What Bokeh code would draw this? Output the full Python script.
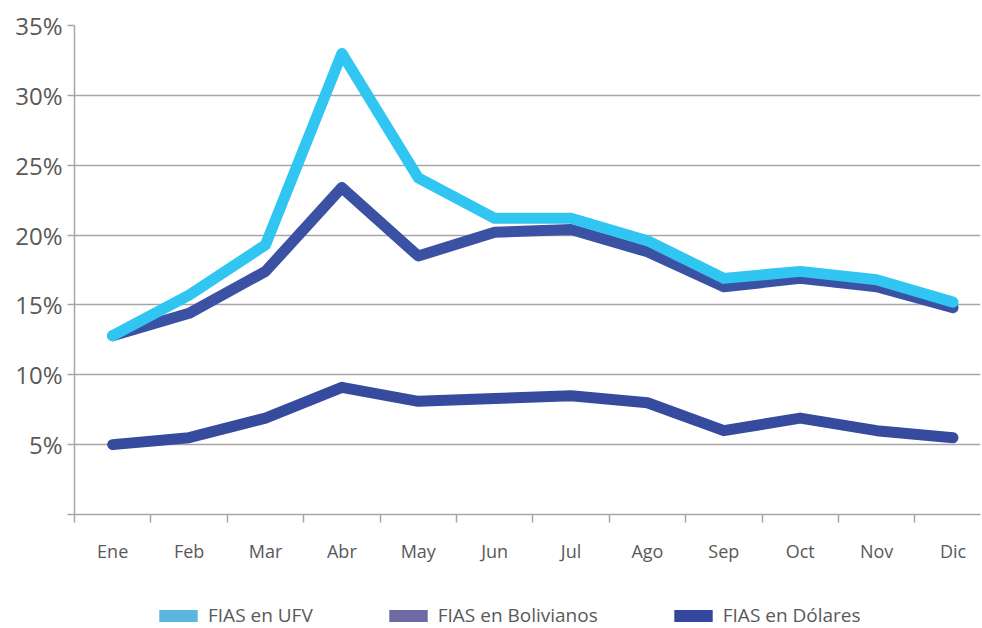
from bokeh.plotting import figure
from bokeh.layouts import column
from bokeh.models import FixedTicker, Legend, LegendItem, ColumnDataSource, Range1d
from bokeh.embed import file_html
from bokeh.resources import INLINE

months = ["Ene", "Feb", "Mar", "Abr", "May", "Jun", "Jul", "Ago", "Sep", "Oct", "Nov", "Dic"]
fias_ufv = [12.8, 15.7, 19.3, 33.0, 24.1, 21.2, 21.2, 19.6, 16.9, 17.4, 16.8, 15.2]
fias_bolivianos = [12.8, 14.4, 17.4, 23.4, 18.5, 20.2, 20.4, 18.8, 16.3, 16.9, 16.3, 14.8]
fias_dolares = [5.0, 5.5, 6.9, 9.1, 8.1, 8.3, 8.5, 8.0, 6.0, 6.9, 6.0, 5.5]
y_ticks = [0, 5, 10, 15, 20, 25, 30, 35]
series_labels = ["FIAS en UFV", "FIAS en Bolivianos", "FIAS en Dólares"]

x = [i + 0.5 for i in range(len(months))]

p = figure(width=982, height=565, output_backend="svg", toolbar_location=None,
           x_range=Range1d(0, 11.86), y_range=Range1d(0, 35),
           min_border_left=74, min_border_right=2, min_border_top=25, min_border_bottom=49)
p.outline_line_color = None
p.background_fill_color = "white"

grey = "#a6a6a6"
lab = "#595959"
font = "Open Sans"

# x axis
p.xaxis.ticker = FixedTicker(ticks=x, minor_ticks=list(range(0, 13)))
p.xaxis.major_label_overrides = {xi: m for xi, m in zip(x, months)}
p.xaxis.major_tick_out = 0
p.xaxis.major_tick_in = 0
p.xaxis.minor_tick_out = 8
p.xaxis.minor_tick_in = 0
p.xaxis.minor_tick_line_color = grey
p.xaxis.minor_tick_line_width = 1.5
p.xaxis.axis_line_color = grey
p.xaxis.axis_line_width = 1.5
p.xaxis.major_label_standoff = 16
p.xaxis.major_label_text_font = font
p.xaxis.major_label_text_font_size = "18px"
p.xaxis.major_label_text_color = lab
p.xgrid.grid_line_color = None

# y axis
p.yaxis.ticker = FixedTicker(ticks=y_ticks)
p.yaxis.major_label_overrides = {t: ("" if t == 0 else f"{t}%") for t in y_ticks}
p.yaxis.major_tick_out = 7
p.yaxis.major_tick_in = 0
p.yaxis.minor_tick_line_color = None
p.yaxis.major_tick_line_color = grey
p.yaxis.major_tick_line_width = 1.5
p.yaxis.axis_line_color = grey
p.yaxis.axis_line_width = 1.5
p.yaxis.major_label_standoff = 5
p.yaxis.major_label_text_font = font
p.yaxis.major_label_text_font_size = "24px"
p.yaxis.major_label_text_color = lab
p.ygrid.grid_line_color = grey
p.ygrid.grid_line_width = 1.5

src = ColumnDataSource(dict(x=x, ufv=fias_ufv, bol=fias_bolivianos, dol=fias_dolares))
p.line("x", "dol", source=src, line_color="#364a9e", line_width=11, line_cap="round", line_join="round")
p.line("x", "bol", source=src, line_color="#3b51a4", line_width=11, line_cap="round", line_join="round")
p.line("x", "ufv", source=src, line_color="#31c5f1", line_width=11, line_cap="round", line_join="round")

# legend strip below the chart
lg = figure(width=982, height=63, output_backend="svg", toolbar_location=None,
            x_axis_type=None, y_axis_type=None, x_range=Range1d(0, 1), y_range=Range1d(0, 1),
            min_border=0)
lg.outline_line_color = None
lg.grid.grid_line_color = None

nan = float("nan")
swatch_colors = ["#5ab6dc", "#6e68a3", "#34479c"]
rs = []
for c in swatch_colors:
    s = ColumnDataSource(dict(l=[nan], r=[nan], b=[nan], t=[nan]))
    rs.append(lg.quad(left="l", right="r", bottom="b", top="t", source=s,
                      fill_color=c, line_color=None))

legend = Legend(items=[LegendItem(label=t, renderers=[r]) for t, r in zip(series_labels, rs)],
                orientation="horizontal", location=(80, 0),
                glyph_width=48, glyph_height=15, label_standoff=6, spacing=71,
                padding=0, margin=0, border_line_color=None, background_fill_alpha=0,
                label_text_font=font, label_text_font_size="19px", label_text_color=lab,
                label_height=16)
lg.add_layout(legend, "center")

layout = column(p, lg, spacing=0)
open("out.html", "w").write(file_html(layout, INLINE))
